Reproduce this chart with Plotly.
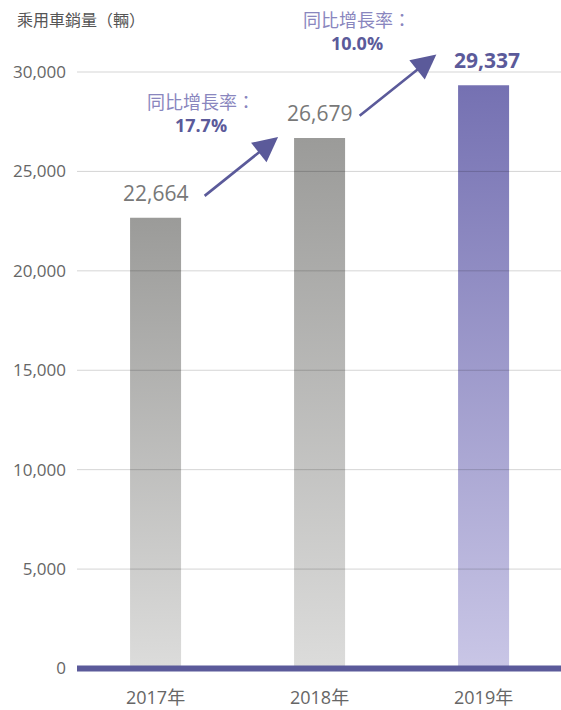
import plotly.graph_objects as go

categories = ["2017年", "2018年", "2019年"]
sales = [22664, 26679, 29337]
value_labels = ["22,664", "26,679", "29,337"]
growth_labels = ["17.7%", "10.0%"]
y_ticks = [0, 5000, 10000, 15000, 20000, 25000, 30000]
y_title = "乘用車銷量（輛）"
growth_title = "同比增長率："

FONT = "Open Sans, Noto Sans CJK TC, sans-serif"
PURPLE = "#5b5a9a"
BAR_W = 0.311

gray_scale = [[0, "#dcdcdb"], [1, "#9b9b99"]]
purple_scale = [[0, "#c9c6e6"], [1, "#7571b2"]]

fig = go.Figure()
for i, (cat, v) in enumerate(zip(categories, sales)):
    xl, xr = i - BAR_W / 2, i + BAR_W / 2
    fig.add_trace(go.Scatter(
        x=[xl, xr, xr, xl, xl], y=[0, 0, v, v, 0],
        mode="lines", line=dict(width=0), fill="toself",
        fillgradient=dict(type="vertical",
                          colorscale=purple_scale if i == len(sales) - 1 else gray_scale),
        hoverinfo="skip", showlegend=False, name=cat,
    ))

# gridlines above bars
for t in y_ticks[1:]:
    fig.add_shape(type="line", xref="paper", x0=0, x1=1, yref="y", y0=t, y1=t,
                  line=dict(color="rgba(0,0,0,0.17)", width=1), layer="above")
# baseline
fig.add_shape(type="line", xref="paper", x0=0, x1=1, yref="y", y0=0, y1=0,
              line=dict(color=PURPLE, width=6), layer="above")

# value labels
for i, (v, lab) in enumerate(zip(sales, value_labels)):
    last = i == len(sales) - 1
    fig.add_annotation(x=i, y=v, text=f"<b>{lab}</b>" if last else lab,
                       showarrow=False, yanchor="bottom", yshift=9,
                       xshift=3 if last else 0,
                       font=dict(family=FONT, size=21, color=PURPLE if last else "#787878"))

# growth annotations + arrows
arrow_specs = [
    dict(tx=0.29, ty=23709, hx=0.747, hy=26728, lx=0.28, ly=0.885),
    dict(tx=1.235, ty=27735, hx=1.712, hy=30880, lx=1.23, ly=1.014),
]
for spec, g in zip(arrow_specs, growth_labels):
    fig.add_annotation(x=spec["hx"], y=spec["hy"], ax=spec["tx"], ay=spec["ty"],
                       axref="x", ayref="y", xref="x", yref="y", text="",
                       showarrow=True, arrowhead=2, arrowsize=1.9, arrowwidth=2.6,
                       arrowcolor=PURPLE)
    fig.add_annotation(x=spec["lx"], y=spec["ly"], xref="x", yref="paper",
                       yanchor="middle",
                       text=f"{growth_title}<br><span style='color:{PURPLE}'><b>{g}</b></span>",
                       showarrow=False, align="center",
                       font=dict(family=FONT, size=18, color="#8986be"))

# y title
fig.add_annotation(x=(15 - 77) / 484, y=1 + (40 - 20) / 640, xref="paper", yref="paper",
                   xanchor="left", yanchor="middle", text=y_title, showarrow=False,
                   font=dict(family=FONT, size=16, color="#555555"))

ymax = (668.5 - 40) / 596.5 * 30000
ymin = -(680 - 668.5) / 596.5 * 30000

fig.update_layout(
    width=561, height=710,
    margin=dict(l=77, r=0, t=40, b=30, autoexpand=False),
    paper_bgcolor="white", plot_bgcolor="white",
    font=dict(family=FONT, color="#666666"),
    showlegend=False,
    xaxis=dict(range=[-0.479, 2.472], tickvals=list(range(len(categories))),
               ticktext=categories, showgrid=False, zeroline=False, showline=False,
               ticks="", tickfont=dict(size=18, color="#666666"),
               ticklabelstandoff=5, fixedrange=True, automargin=False),
    yaxis=dict(range=[ymin, ymax], tickvals=y_ticks, tickformat=",",
               showgrid=False, zeroline=False, showline=False, ticks="",
               tickfont=dict(size=17, color="#666666"), ticklabelstandoff=10,
               fixedrange=True, automargin=False),
)

fig.write_html("out.html", config={"displayModeBar": False},
               post_script="document.body.style.margin='0';document.body.style.overflow='hidden';")
